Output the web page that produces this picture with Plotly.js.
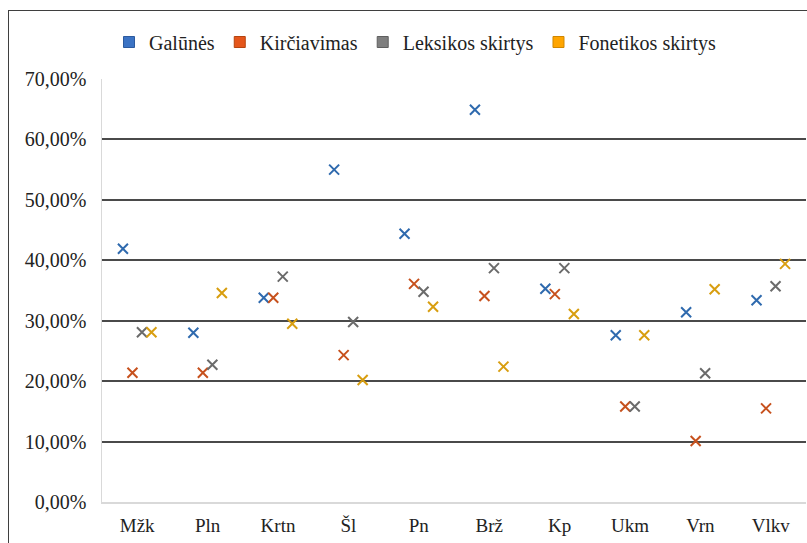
<!DOCTYPE html>
<html>
<head>
<meta charset="utf-8">
<script src="https://cdn.plot.ly/plotly-3.0.1.min.js"></script>
<style>
  html, body { margin: 0; padding: 0; background: #fff; }
  #wrap { position: relative; width: 807px; height: 543px; overflow: hidden; }
  #frame { position: absolute; left: 8px; top: 10px; width: 820px; height: 560px;
           border-left: 1.5px solid #3f3f3f; border-top: 1.5px solid #3f3f3f; pointer-events: none; }
  #chart { position: absolute; left: 0; top: 0; width: 807px; height: 543px; }
</style>
</head>
<body>
<div id="wrap">
  <div id="chart"></div>
  <div id="frame"></div>
</div>
<script>
const categories = ["Mžk", "Pln", "Krtn", "Šl", "Pn", "Brž", "Kp", "Ukm", "Vrn", "Vlkv"];
const seriesNames = ["Galūnės", "Kirčiavimas", "Leksikos skirtys", "Fonetikos skirtys"];
const galunes    = [0.419, 0.280, 0.338, 0.550, 0.444, 0.649, 0.353, 0.276, 0.314, 0.334];
const kirciavimas = [0.214, 0.214, 0.338, 0.243, 0.361, 0.341, 0.344, 0.158, 0.101, 0.155];
const leksikos   = [0.281, 0.227, 0.373, 0.298, 0.348, 0.387, 0.387, 0.158, 0.213, 0.357];
const fonetikos  = [0.281, 0.346, 0.295, 0.202, 0.323, 0.224, 0.311, 0.276, 0.352, 0.394];
const seriesValues = [galunes, kirciavimas, leksikos, fonetikos];
const yTicks = [0, 0.1, 0.2, 0.3, 0.4, 0.5, 0.6, 0.7];

const SERIF = "Liberation Serif, Times New Roman, serif";
const markerColors = ["#2f6aae", "#c7511d", "#6b6b6b", "#d89e10"];
const legendColors = ["#3b73c4", "#e5561b", "#7f7f7f", "#ffa500"];
const legendEdge   = ["#2c5a9e", "#b5440f", "#5f5f5f", "#d08600"];

const traces = [];
seriesValues.forEach((vals, i) => {
  traces.push({
    type: "scatter", mode: "markers", name: seriesNames[i],
    x: categories, y: vals, offsetgroup: "g" + i, showlegend: false,
    marker: { symbol: "x-thin", size: 10, color: markerColors[i],
              line: { color: markerColors[i], width: 2 } },
    hoverinfo: "skip"
  });
});
seriesValues.forEach((vals, i) => {
  traces.push({
    type: "scatter", mode: "markers", name: seriesNames[i],
    x: [categories[0]], y: [null], offsetgroup: "g" + i, showlegend: true,
    marker: { symbol: "square", size: 11, color: legendColors[i],
              line: { color: legendEdge[i], width: 1 } }
  });
});

const layout = {
  width: 807, height: 543,
  margin: { l: 102, r: 1, t: 79, b: 41, pad: 0, autoexpand: false },
  paper_bgcolor: "rgba(0,0,0,0)", plot_bgcolor: "#fff",
  separators: ", ",
  font: { family: SERIF, size: 19, color: "#222" },
  scattermode: "group", scattergap: 0.46,
  showlegend: true,
  legend: { orientation: "h", x: 415 / 807, xref: "container", xanchor: "center",
            y: 1 - 42 / 543, yref: "container", yanchor: "middle",
            font: { family: SERIF, size: 20, color: "#222" }, itemwidth: 30, tracegroupgap: 0,
            bgcolor: "rgba(0,0,0,0)" },
  xaxis: { type: "category", categoryorder: "array", categoryarray: categories,
           showgrid: false, zeroline: false, showline: true, linecolor: "#d9d9d9", linewidth: 1.5,
           ticks: "", tickfont: { family: SERIF, size: 19, color: "#222" }, ticklabelstandoff: 6, automargin: false },
  yaxis: { range: [0, 0.7], tickvals: yTicks, tickformat: ".2%",
           showgrid: true, gridcolor: "#4a4a4a", gridwidth: 2,
           zeroline: true, zerolinecolor: "#d9d9d9", zerolinewidth: 1.5,
           showline: true, linecolor: "#d9d9d9", linewidth: 1.5, automargin: false,
           ticks: "", tickfont: { family: SERIF, size: 20, color: "#222" }, ticklabelstandoff: 10 }
};

Plotly.newPlot("chart", traces, layout, { displayModeBar: false, staticPlot: true });
</script>
</body>
</html>
